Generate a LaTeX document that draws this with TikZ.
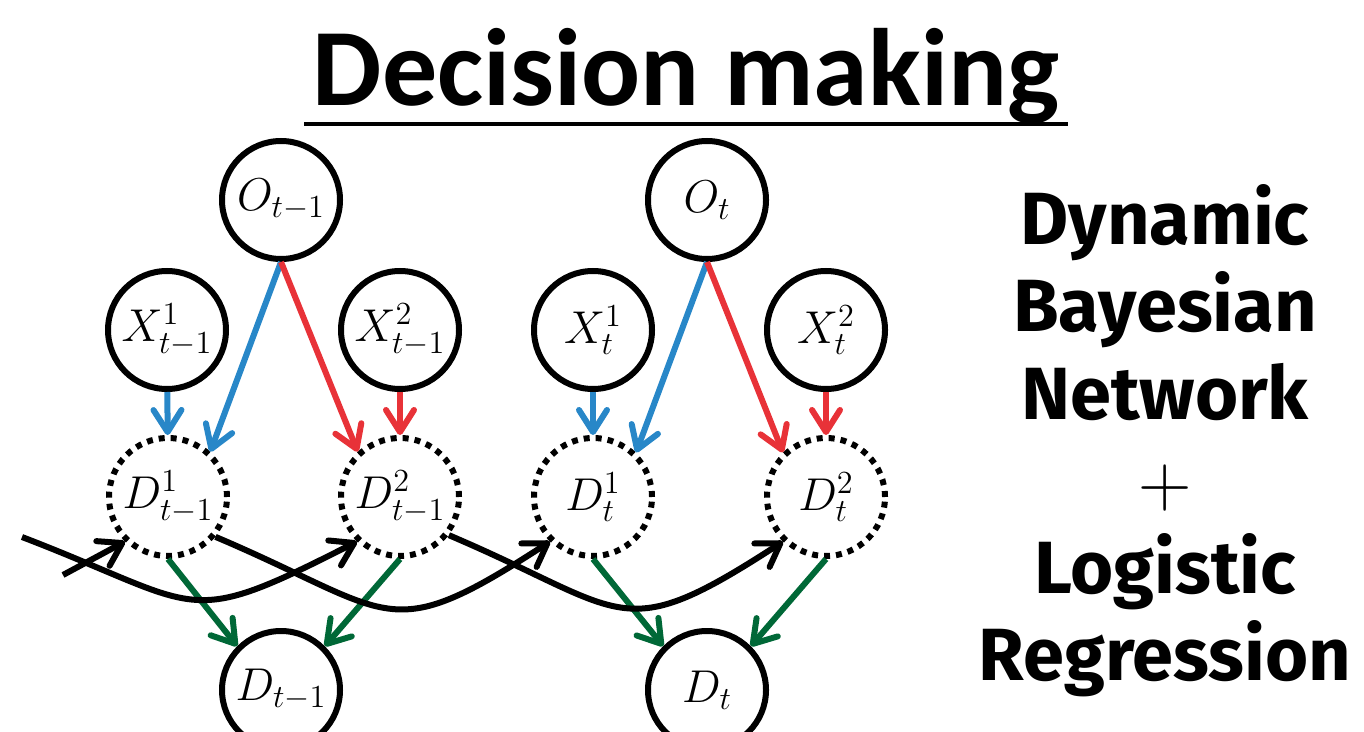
\RequirePackage{fix-cm}
\documentclass[tikz,border=0pt]{standalone}
\usepackage{amsmath}
\usepackage{fontspec}
\newfontfamily\headfont{Carlito}
\newfontfamily\sidefont{Fira Sans}
\usetikzlibrary{arrows.meta}
\definecolor{obsblue}{RGB}{40,135,200}
\definecolor{obsred}{RGB}{232,50,56}
\definecolor{decgreen}{RGB}{0,104,55}

\tikzset{
  var/.style={circle, draw, line width=3pt, minimum size=59pt, inner sep=0pt,
    font=\fontsize{23}{26}\selectfont},
  latent/.style={var, dash pattern=on 3pt off 3pt},
  link/.style={line width=3pt, -{Straight Barb[length=11pt,width=14pt,round]}},
  sidetxt/.style={font=\sidefont\bfseries\fontsize{37}{40}\selectfont, anchor=base, inner sep=0pt},
}

\begin{document}
\begin{tikzpicture}[x=0.5pt, y=0.5pt]
  \path[use as bounding box, clip] (0,0) rectangle (1364,-732);

  % heading
  \node[font=\headfont\bfseries\fontsize{55}{60}\selectfont, inner xsep=4pt, inner ysep=0pt,
    anchor=base] (title) at (686,-106) {Decision making};
  \draw[line width=1.9pt] ([yshift=-9pt]title.base west) -- ([yshift=-9pt]title.base east);

  % slice t-1
  \node[var] (Otm) at (281,-200) {$O_{t-1}$};
  \node[var] (X1tm) at (167,-330) {$X^1_{t-1}$};
  \node[var] (X2tm) at (400,-330) {$X^2_{t-1}$};
  \node[latent] (D1tm) at (168,-497) {$D^1_{t-1}$};
  \node[latent] (D2tm) at (400,-497) {$D^2_{t-1}$};
  \node[var] (Dtm) at (281,-690) {$D_{t-1}$};

  % slice t
  \node[var] (Ot) at (707,-200) {$O_t$};
  \node[var] (X1t) at (593,-330) {$X^1_t$};
  \node[var] (X2t) at (826,-330) {$X^2_t$};
  \node[latent] (D1t) at (593,-497) {$D^1_t$};
  \node[latent] (D2t) at (826,-497) {$D^2_t$};
  \node[var] (Dt) at (707,-690) {$D_t$};

  % observations -> latent decisions
  \draw[link, obsblue] (X1tm) -- (D1tm);
  \draw[link, obsblue] (Otm.south) -- (D1tm.47);
  \draw[link, obsred] (Otm.south) -- (D2tm.133);
  \draw[link, obsred] (X2tm) -- (D2tm);
  \draw[link, obsblue] (X1t) -- (D1t);
  \draw[link, obsblue] (Ot.south) -- (D1t.46);
  \draw[link, obsred] (Ot.south) -- (D2t.134);
  \draw[link, obsred] (X2t) -- (D2t);

  % latent -> observed decision
  \draw[link, decgreen] (D1tm.south) -- (Dtm.135);
  \draw[link, decgreen] (D2tm.south) -- (Dtm.45);
  \draw[link, decgreen] (D1t.south) -- (Dt.135);
  \draw[link, decgreen] (D2t.south) -- (Dt.45);

  % temporal links
  \coordinate (prev1) at (22,-537);
  \coordinate (prev2) at (63,-575);
  \draw[link] (prev2) -- (D1tm.226);
  \draw[link] (prev1) to[out=-21, in=207, looseness=1.5] (D2tm.226);
  \draw[link] (D1tm.-40) to[out=-23, in=213, looseness=1.5] (D1t.226);
  \draw[link] (D2tm.-38) to[out=-23, in=213, looseness=1.5] (D2t.226);

  % model name
  \foreach \w [count=\i] in {Dynamic, Bayesian, Network, {$+$}, Logistic, Regression}
    \node[sidetxt] (side\i) at (1165,{-245-87*(\i-1)}) {\w};
\end{tikzpicture}
\end{document}
